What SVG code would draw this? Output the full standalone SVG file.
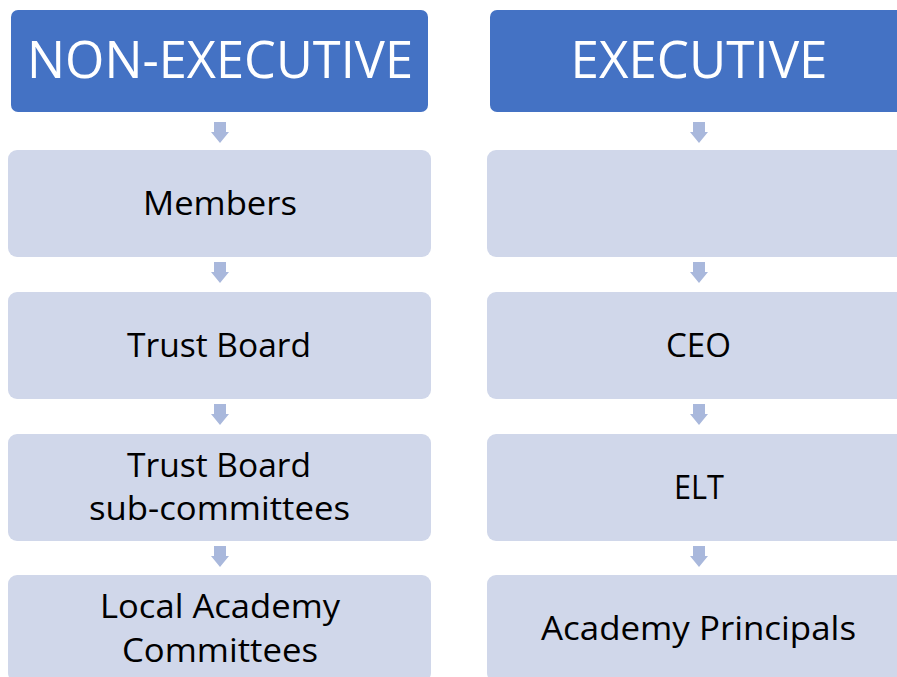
<svg xmlns="http://www.w3.org/2000/svg" width="897" height="677" viewBox="0 0 897 677">
<defs>
<style>
.hdr{fill:#4472C4}
.box{fill:#D0D7EA}
.arr{fill:#A9B8DC}
.ht{font-family:"Open Sans","Liberation Sans",sans-serif;font-size:51px;fill:#FFFFFF;text-anchor:middle}
.bt{font-family:"Open Sans","Liberation Sans",sans-serif;font-size:33px;fill:#000000;text-anchor:middle}
</style>
<path id="dn" d="M-6,0 H6 V10 H9 L0,21 L-9,10 H-6 Z"/>
</defs>
<rect width="897" height="677" fill="#FFFFFF"/>
<g id="connectors" class="arr">
<use href="#dn" x="220" y="122"/>
<use href="#dn" x="220" y="262"/>
<use href="#dn" x="220" y="404"/>
<use href="#dn" x="220" y="546"/>
<use href="#dn" x="699" y="122"/>
<use href="#dn" x="699" y="262"/>
<use href="#dn" x="699" y="404"/>
<use href="#dn" x="699" y="546"/>
</g>
<g id="non-executive">
<rect class="hdr" x="11" y="10" width="417" height="102" rx="7"/>
<text class="ht" x="220" y="78" textLength="386" lengthAdjust="spacingAndGlyphs">NON-EXECUTIVE</text>
</g>
<g id="executive">
<rect class="hdr" x="490" y="10" width="417" height="102" rx="7"/>
<text class="ht" x="699" y="78" textLength="257" lengthAdjust="spacingAndGlyphs">EXECUTIVE</text>
</g>
<g id="members">
<rect class="box" x="8" y="150" width="423" height="107" rx="9"/>
<text class="bt" x="220" y="215" textLength="154" lengthAdjust="spacingAndGlyphs">Members</text>
</g>
<g id="trust-board">
<rect class="box" x="8" y="292" width="423" height="107" rx="9"/>
<text class="bt" x="219" y="357" textLength="184" lengthAdjust="spacingAndGlyphs">Trust Board</text>
</g>
<g id="sub-committees">
<rect class="box" x="8" y="434" width="423" height="107" rx="9"/>
<text class="bt" x="219" y="477" textLength="184" lengthAdjust="spacingAndGlyphs">Trust Board</text>
<text class="bt" x="219.5" y="520" textLength="261" lengthAdjust="spacingAndGlyphs">sub-committees</text>
</g>
<g id="local-academy">
<rect class="box" x="8" y="575" width="423" height="107" rx="9"/>
<text class="bt" x="220" y="618" textLength="240" lengthAdjust="spacingAndGlyphs">Local Academy</text>
<text class="bt" x="220" y="662" textLength="196" lengthAdjust="spacingAndGlyphs">Committees</text>
</g>
<g id="blank">
<rect class="box" x="487" y="150" width="423" height="107" rx="9"/>
</g>
<g id="ceo">
<rect class="box" x="487" y="292" width="423" height="107" rx="9"/>
<text class="bt" x="698.5" y="357" textLength="65" lengthAdjust="spacingAndGlyphs">CEO</text>
</g>
<g id="elt">
<rect class="box" x="487" y="434" width="423" height="107" rx="9"/>
<text class="bt" x="699" y="499" textLength="50" lengthAdjust="spacingAndGlyphs">ELT</text>
</g>
<g id="principals">
<rect class="box" x="487" y="575" width="423" height="107" rx="9"/>
<text class="bt" x="698.5" y="640" textLength="315" lengthAdjust="spacingAndGlyphs">Academy Principals</text>
</g>
</svg>
